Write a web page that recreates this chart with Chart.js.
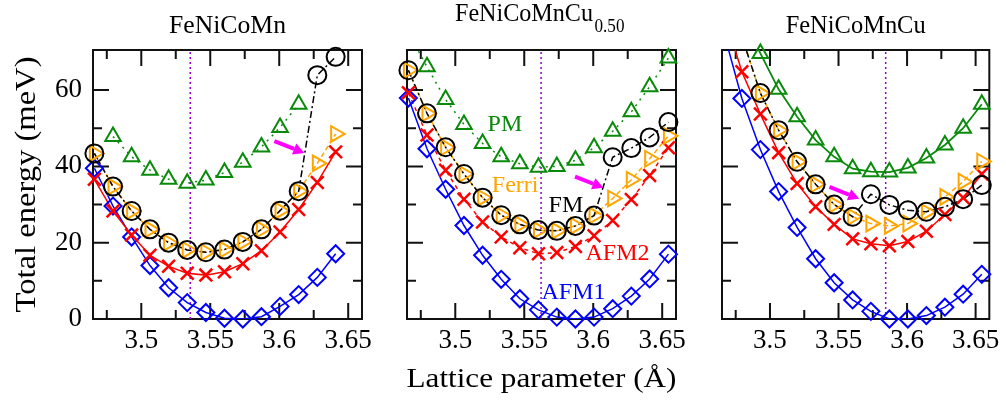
<!DOCTYPE html>
<html><head><meta charset="utf-8">
<script src="https://cdn.jsdelivr.net/npm/chart.js@4.4.1/dist/chart.umd.min.js"></script>
<style>
html,body{margin:0;padding:0;background:#fff;width:1006px;height:401px;overflow:hidden}
canvas{position:absolute;top:0}
</style></head><body>
<canvas id="c1" width="380" height="401" style="left:0px"></canvas>
<canvas id="c2" width="307" height="401" style="left:387px"></canvas>
<canvas id="c3" width="304" height="401" style="left:702px"></canvas>
<script>
// ---------------- data ----------------
const LATTICE = [3.466, 3.4795, 3.493, 3.5063, 3.5198, 3.5333, 3.5468, 3.5603, 3.5736, 3.5871, 3.6006, 3.6141, 3.6276, 3.6409, 3.6545];
const X_TICKS = [3.5, 3.55, 3.6, 3.65];
const X_MINOR = [3.475, 3.525, 3.575, 3.625];
const Y_TICKS = [0, 20, 40, 60];
const Y_MINOR = [10, 30, 50];
const X_RANGE = [3.465, 3.66];
const Y_RANGE = [0, 70.5];

const TITLES = ['FeNiCoMn', 'FeNiCoMnCu', 'FeNiCoMnCu'];
const TITLE_SUBS = ['', '0.50', ''];
const X_TITLE = 'Lattice parameter (Å)';
const Y_TITLE = 'Total energy (meV)';

// FeNiCoMn
const PM_1    = [null, 47.8, 42.5, 39.0, 36.6, 35.6, 36.4, 38.4, 41.1, 45.1, 50.2, 56.3, null, null, null];
const FM_1    = [43.4, 34.7, 28.3, 23.5, 20.0, 18.1, 17.5, 18.2, 20.2, 23.5, 28.4, 33.5, 63.9, 68.7, null];
const FERRI_1 = [43.4, 34.7, 28.3, 23.5, 20.0, 18.1, 17.5, 18.2, 20.2, 23.5, 28.4, 33.5, 40.8, 48.5, null];
const AFM2_1  = [36.6, 28.3, 22.0, 16.7, 13.8, 12.0, 11.5, 12.4, 14.5, 17.9, 22.8, 28.7, 35.8, 43.8, null];
const AFM1_1  = [39.5, 29.6, 21.5, 14.0, 8.2, 4.3, 1.7, 0.2, 0.0, 0.6, 3.3, 6.4, 10.9, 17.1, null];

// FeNiCoMnCu0.50
const PM_2    = [75.0, 66.1, 57.5, 51.0, 46.0, 42.5, 40.7, 39.8, 40.0, 41.6, 44.9, 49.2, 54.3, 60.9, 68.4];
const FM_2    = [65.2, 53.9, 45.0, 38.0, 31.8, 27.2, 24.8, 23.3, 23.1, 24.4, 27.1, 42.4, 44.8, 47.6, 51.6];
const FERRI_2 = [65.2, 53.9, 45.0, 38.0, 31.8, 27.2, 24.8, 23.3, 23.1, 24.4, 27.1, 31.6, 36.5, 42.0, 48.0];
const AFM2_2  = [59.3, 48.2, 39.0, 31.4, 25.4, 21.5, 18.7, 17.1, 17.4, 19.0, 21.8, 25.8, 31.3, 37.6, 44.9];
const AFM1_2  = [57.9, 44.6, 34.0, 24.5, 16.7, 10.4, 5.3, 2.4, 0.5, 0.0, 0.5, 2.7, 6.0, 10.5, 17.0];

// FeNiCoMnCu
const PM_3    = [null, 80.0, 69.6, 60.2, 53.0, 46.9, 42.5, 39.4, 38.6, 38.5, 39.6, 42.2, 45.6, 50.0, 56.3];
const FM_3    = [null, 74.0, 59.2, 49.5, 41.2, 35.3, 30.0, 26.8, 32.7, 29.9, 28.5, 28.1, 29.4, 31.4, 35.1];
const FERRI_3 = [null, 74.0, 59.2, 49.5, 41.2, 35.3, 30.0, 26.8, 25.0, 24.4, 25.0, 28.0, 32.0, 36.0, 41.3];
const AFM2_3  = [80.6, 64.8, 53.7, 43.6, 35.5, 29.4, 24.8, 21.0, 19.7, 19.2, 20.3, 23.0, 27.4, 31.8, 38.0];
const AFM1_3  = [75.5, 57.8, 44.4, 33.4, 24.0, 15.8, 9.5, 5.0, 2.0, 0.0, 0.0, 0.9, 3.1, 6.5, 11.7];

// dotted reference lattice parameter per panel
const REF_A = [3.5355, 3.5622, 3.5844];
// magenta arrows per panel: [x0, y0, x1, y1] in data units
const ARROW_1 = [3.5965, 46.6, 3.6182, 43.5];
const ARROW_2 = [3.5868, 37.3, 3.6074, 34.4];
const ARROW_3 = [3.5434, 34.6, 3.5651, 31.5];
// in-plot labels of the middle panel
const LABEL_TEXT = ['PM', 'Ferri', 'FM', 'AFM2', 'AFM1'];
const LABEL_KEY  = ['PM', 'FERRI', 'FM', 'AFM2', 'AFM1'];
const LABEL_X    = [3.536, 3.5434, 3.5802, 3.6176, 3.5857];
const LABEL_Y    = [51.0, 35.0, 29.7, 17.1, 7.0];

// ---------------- styles ----------------
const COL = {PM:'#0a8a0a', FM:'#000000', FERRI:'#ffa500', AFM2:'#ff0000', AFM1:'#0000ff', REF:'#9400d3', ARROW:'#ff00ff'};
const MARK = {
  FM:{style:'circle', r:9, w:2, rot:0},
  FERRI:{style:'triangle', r:9, w:2, rot:90},
  PM:{style:'triangle', r:9, w:2, rot:0},
  AFM2:{style:'crossRot', r:9, w:2.5, rot:0},
  AFM1:{style:'rectRot', r:8.5, w:2, rot:0}
};
const LINESTYLE = [
  {PM:[[2,5],1.5], FM:[[7,3,2,3],1.5], FERRI:[[5,3],1.5], AFM2:[[],1.5], AFM1:[[],1.5]},
  {PM:[[2,5],1.5], FM:[[7,3,2,3],1.5], FERRI:[[5,3],1.5], AFM2:[[4,4],1.5], AFM1:[[],1.5]},
  {PM:[[],1.8], FM:[[7,3,2,3],1.5], FERRI:[[5,3],1.5], AFM2:[[],1.5], AFM1:[[],1.5]}
];
const FONT = '"Liberation Serif", "Times New Roman", serif';
const PANEL_SERIES = [
  {PM:PM_1, FM:FM_1, FERRI:FERRI_1, AFM2:AFM2_1, AFM1:AFM1_1, arrow:ARROW_1},
  {PM:PM_2, FM:FM_2, FERRI:FERRI_2, AFM2:AFM2_2, AFM1:AFM1_2, arrow:ARROW_2},
  {PM:PM_3, FM:FM_3, FERRI:FERRI_3, AFM2:AFM2_3, AFM1:AFM1_3, arrow:ARROW_3}
];
const LAYOUT = [
  {id:'c1', yw:93, pr:18},
  {id:'c2', yw:20, pr:18},
  {id:'c3', yw:20, pr:15}
];

function pts(vals){
  const out=[];
  LATTICE.forEach((x,i)=>{ if(vals[i]!=null) out.push({x:x, y:vals[i]}); });
  return out;
}

function drawText(ctx, text, x, y, font, color, width, rot){
  ctx.save();
  ctx.font = font; ctx.fillStyle = color; ctx.textBaseline = 'alphabetic'; ctx.textAlign='center';
  ctx.translate(x,y); if(rot) ctx.rotate(rot);
  const w = ctx.measureText(text).width;
  if(width) ctx.scale(width/w,1);
  ctx.fillText(text,0,0);
  ctx.restore();
}

function makePanel(p){
  const S = PANEL_SERIES[p], L = LINESTYLE[p], lay = LAYOUT[p];
  const order = ['FM','FERRI','PM','AFM2','AFM1'];
  const ds = [];
  order.forEach(k=>{
    const m = MARK[k];
    ds.push({data:pts(S[k]), showLine:false, pointStyle:m.style, pointRotation:m.rot,
      pointRadius: ctx => (ctx.raw && ctx.raw.y > Y_RANGE[1]) ? 0 : m.r,
      pointBorderColor:COL[k], pointBackgroundColor:'rgba(0,0,0,0)', pointBorderWidth:m.w, clip:false});
  });
  order.forEach(k=>{
    ds.push({data:pts(S[k]), showLine:true, borderColor:COL[k], borderWidth:L[k][1], borderDash:L[k][0],
      pointRadius:0, pointHoverRadius:0, fill:false, tension:0, clip:0});
  });
  ds.push({data:[{x:REF_A[p], y:Y_RANGE[0]},{x:REF_A[p], y:Y_RANGE[1]}], showLine:true, borderColor:COL.REF,
    borderWidth:1.5, borderDash:[2,3], pointRadius:0, clip:0});

  const framePlugin = {
    id:'frame'+p,
    beforeDatasetsDraw(chart){
      const ctx = chart.ctx, a = chart.chartArea, xs = chart.scales.x, ys = chart.scales.y;
      ctx.save();
      ctx.strokeStyle = '#111'; ctx.lineWidth = 2;
      ctx.strokeRect(a.left, a.top, a.right-a.left, a.bottom-a.top);
      ctx.lineWidth = 2;
      const tick = (vals, len, horiz) => vals.forEach(v=>{
        ctx.beginPath();
        if(horiz){
          const px = xs.getPixelForValue(v);
          ctx.moveTo(px, a.bottom); ctx.lineTo(px, a.bottom-len);
          ctx.moveTo(px, a.top); ctx.lineTo(px, a.top+len);
        } else {
          const py = ys.getPixelForValue(v);
          ctx.moveTo(a.left, py); ctx.lineTo(a.left+len, py);
          ctx.moveTo(a.right, py); ctx.lineTo(a.right-len, py);
        }
        ctx.stroke();
      });
      tick(X_TICKS,16,true); tick(X_MINOR,9,true);
      tick(Y_TICKS,16,false); tick(Y_MINOR,9,false);
      ctx.restore();
    },
    afterDatasetsDraw(chart){
      const ctx = chart.ctx, xs = chart.scales.x, ys = chart.scales.y;
      const A = S.arrow;
      const x0 = xs.getPixelForValue(A[0]), y0 = ys.getPixelForValue(A[1]);
      const x1 = xs.getPixelForValue(A[2]), y1 = ys.getPixelForValue(A[3]);
      const ang = Math.atan2(y1-y0, x1-x0), hl = 11, hw = 6;
      const bx = x1 - hl*Math.cos(ang), by = y1 - hl*Math.sin(ang);
      ctx.save();
      ctx.strokeStyle = COL.ARROW; ctx.fillStyle = COL.ARROW; ctx.lineWidth = 4;
      ctx.beginPath(); ctx.moveTo(x0,y0); ctx.lineTo(bx,by); ctx.stroke();
      ctx.beginPath(); ctx.moveTo(x1,y1);
      ctx.lineTo(bx + hw*Math.sin(ang), by - hw*Math.cos(ang));
      ctx.lineTo(bx - hw*Math.sin(ang), by + hw*Math.cos(ang));
      ctx.closePath(); ctx.fill();
      ctx.restore();
    },
    afterDraw(chart){
      const ctx = chart.ctx, a = chart.chartArea, xs = chart.scales.x, ys = chart.scales.y;
      const cx = (a.left+a.right)/2;
      if(TITLE_SUBS[p]){
        drawText(ctx, TITLES[p], cx-86.5+69, 21, '25px '+FONT, '#000', 138);
        drawText(ctx, TITLE_SUBS[p], cx+53+15, 31.5, '18px '+FONT, '#000', 30);
      } else {
        drawText(ctx, TITLES[p], cx, 33, '25px '+FONT, '#000', p===0?117:140);
      }
      if(p===0){
        drawText(ctx, Y_TITLE, 35, (a.top+a.bottom)/2, '30px '+FONT, '#000', 256, -Math.PI/2);
      }
      if(p===1){
        drawText(ctx, X_TITLE, cx, 387, '27px '+FONT, '#000', 270);
        ctx.save();
        ctx.font = '24px '+FONT; ctx.textAlign='center'; ctx.textBaseline='middle';
        LABEL_TEXT.forEach((t,i)=>{
          ctx.fillStyle = COL[LABEL_KEY[i]];
          ctx.fillText(t, xs.getPixelForValue(LABEL_X[i]), ys.getPixelForValue(LABEL_Y[i]));
        });
        ctx.restore();
      }
    }
  };

  new Chart(document.getElementById(lay.id), {
    type:'scatter',
    data:{datasets:ds},
    options:{
      responsive:false, animation:false, devicePixelRatio:1, events:[],
      layout:{padding:{top:50, right:lay.pr, left:0, bottom:0}},
      plugins:{legend:{display:false}, tooltip:{enabled:false}, title:{display:false}},
      scales:{
        x:{type:'linear', min:X_RANGE[0], max:X_RANGE[1],
          afterBuildTicks: s => { s.ticks = X_TICKS.map(v=>({value:v})); },
          afterFit: s => { s.height = 82; },
          grid:{display:false, drawTicks:false}, border:{display:false},
          ticks:{font:{family:FONT, size:27}, color:'#000', padding:6, maxRotation:0, autoSkip:false, callback: v => String(v)}},
        y:{type:'linear', min:Y_RANGE[0], max:Y_RANGE[1],
          afterBuildTicks: s => { s.ticks = Y_TICKS.map(v=>({value:v})); },
          afterFit: s => { s.width = lay.yw; },
          grid:{display:false, drawTicks:false}, border:{display:false},
          ticks:{display:p===0, font:{family:FONT, size:27}, color:'#000', padding:11, callback: v => String(v)}}
      }
    },
    plugins:[framePlugin]
  });
}
[0,1,2].forEach(makePanel);
</script>
</body></html>
